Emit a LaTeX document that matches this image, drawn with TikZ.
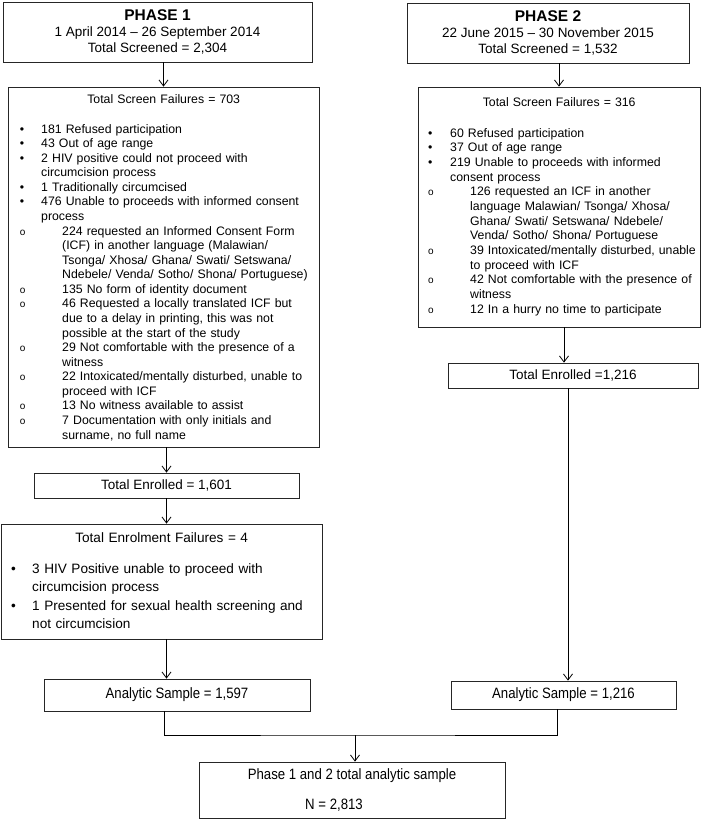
\documentclass[tikz,border=0pt]{standalone}
\usepackage{fontspec}
\setmainfont{Liberation Sans}
\newfontfamily\narrowfont[FakeStretch=0.88]{Liberation Sans}
\usetikzlibrary{arrows.meta}

% list lines: bullet offset, text offset, sub-text offset
\def\bx{12pt}\def\tx{33pt}\def\sx{55pt}
\newcommand{\bitem}[1]{\par\hangindent=\tx\hangafter=1\noindent
  \hbox to \tx{\hskip\bx\textbullet\hss}{\let\\\newline#1}}
\newcommand{\oitem}[1]{\par\hangindent=\sx\hangafter=1\noindent
  \hbox to \sx{\hskip\bx{\fontsize{10}{10}\selectfont o}\hss}{\let\\\newline#1}}
\newcommand{\phasehead}[1]{{\fontsize{15.5}{16}\selectfont\bfseries #1}}

\begin{document}
\begin{tikzpicture}[x=1pt,y=-1pt,
  box/.style={draw=black!85,line width=0.8pt,inner sep=0pt},
  arr/.style={line width=0.8pt,-{Straight Barb[length=6pt,width=9pt,line width=0.8pt]}},
  link/.style={line width=0.8pt},
  listtxt/.style={anchor=north west,inner sep=0pt,align=left}]
\path[fill=white,use as bounding box] (0,0) rectangle (709,819);

% phase 1
\node[box,minimum width=309pt,minimum height=60pt,align=center,font=\fontsize{13.5}{16}\selectfont] (p1) at (157.5,32)
  {\phasehead{PHASE 1}\\1 April 2014 -- 26 September 2014\\Total Screened = 2,304};
\node[box,minimum width=311pt,minimum height=360pt] (sf1) at (163.5,267) {};
\node[listtxt,text width=311pt,font=\fontsize{12.3}{14.57}\selectfont] (sf1txt) at (8,94) {%
  \baselineskip=14.57pt
  \makebox[311pt]{Total Screen Failures = 703}\par\vskip 15.4pt
  \def\bx{11.8pt}\def\tx{33pt}\def\sx{54pt}%
  \bitem{181 Refused participation}
  \bitem{43 Out of age range}
  \bitem{2 HIV positive could not proceed with\\circumcision process}
  \bitem{1 Traditionally circumcised}
  \bitem{476 Unable to proceeds with informed consent\\process}
  \oitem{224 requested an Informed Consent Form\\(ICF) in another language (Malawian/\\Tsonga/ Xhosa/ Ghana/ Swati/ Setswana/\\Ndebele/ Venda/ Sotho/ Shona/ Portuguese)}
  \oitem{135 No form of identity document}
  \oitem{46 Requested a locally translated ICF but\\due to a delay in printing, this was not\\possible at the start of the study}
  \oitem{29 Not comfortable with the presence of a\\witness}
  \oitem{22 Intoxicated/mentally disturbed, unable to\\proceed with ICF}
  \oitem{13 No witness available to assist}
  \oitem{7 Documentation with only initials and\\surname, no full name}\par};
\node[box,minimum width=265pt,minimum height=25pt,font=\fontsize{13.5}{16}\selectfont] (enr1) at (166.5,485.5) {Total Enrolled = 1,601};
\node[box,minimum width=321pt,minimum height=115pt] (ef1) at (161.5,581.5) {};
\node[listtxt,text width=321pt,font=\fontsize{13.6}{18.6}\selectfont] (ef1txt) at (1,532) {%
  \baselineskip=18.6pt
  \makebox[321pt]{Total Enrolment Failures = 4}\par\vskip 12.4pt
  \def\bx{10pt}\def\tx{31pt}%
  \bitem{3 HIV Positive unable to proceed with\\circumcision process}
  \bitem{1 Presented for sexual health screening and\\not circumcision}\par};
\node[box,minimum width=266pt,minimum height=32pt,font=\narrowfont\fontsize{15}{16}\selectfont] (an1) at (177,695) {Analytic Sample = 1,597};

% phase 2
\node[box,minimum width=282pt,minimum height=60pt,align=center,font=\fontsize{13.5}{16}\selectfont] (p2) at (548,33)
  {\phasehead{PHASE 2}\\22 June 2015 -- 30 November 2015\\Total Screened = 1,532};
\node[box,minimum width=282pt,minimum height=240pt] (sf2) at (559,207) {};
\node[listtxt,text width=282pt,font=\fontsize{12.3}{14.67}\selectfont] (sf2txt) at (418,97) {%
  \baselineskip=14.67pt
  \makebox[282pt]{Total Screen Failures = 316}\par\vskip 16.3pt
  \def\bx{10pt}\def\tx{32pt}\def\sx{52pt}%
  \bitem{60 Refused participation}
  \bitem{37 Out of age range}
  \bitem{219 Unable to proceeds with informed\\consent process}
  \oitem{126 requested an ICF in another\\language Malawian/ Tsonga/ Xhosa/\\Ghana/ Swati/ Setswana/ Ndebele/\\Venda/ Sotho/ Shona/ Portuguese}
  \oitem{39 Intoxicated/mentally disturbed, unable\\to proceed with ICF}
  \oitem{42 Not comfortable with the presence of\\witness}
  \oitem{12 In a hurry no time to participate}\par};
\node[box,minimum width=250pt,minimum height=25pt,font=\fontsize{13.5}{16}\selectfont] (enr2) at (573,375.5) {Total Enrolled =1,216};
\node[box,minimum width=225pt,minimum height=28pt,font=\narrowfont\fontsize{15}{16}\selectfont] (an2) at (563.5,695) {Analytic Sample = 1,216};

% both phases
\node[box,minimum width=306pt,minimum height=56pt,align=center,font=\narrowfont\fontsize{15}{30}\selectfont] (fin) at (352,790)
  {Phase 1 and 2 total analytic sample\\N = 2,813\hspace*{36pt}};
\coordinate (join) at (355,735);

% connectors
\draw[arr] (p1.south -| sf1.north) -- (sf1.north);
\draw[arr] (sf1.south -| enr1.north) -- (enr1.north);
\draw[arr] (enr1.south) -- (enr1.south |- ef1.north);
\draw[arr] (ef1.south -| enr1.south) -- (an1.north -| enr1.south);
\draw[arr] (p2.south -| sf2.north) -- (sf2.north);
\draw[arr] ([xshift=5pt]sf2.south) -- ([xshift=5pt]sf2.south |- enr2.north);
\draw[arr] ([xshift=-5pt]enr2.south) -- ([xshift=-5pt]enr2.south |- an2.north);
\draw[link] ([xshift=-13pt]an1.south) |- (join) -| ([xshift=-6.5pt]an2.south);
\draw[arr] (join) -- (join |- fin.north);
\end{tikzpicture}
\end{document}
